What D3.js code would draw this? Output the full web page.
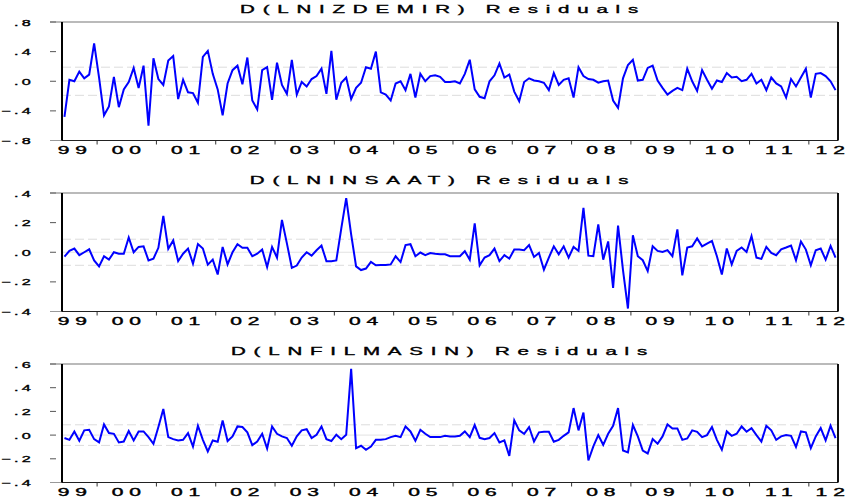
<!DOCTYPE html>
<html>
<head>
<meta charset="utf-8">
<script src="https://cdn.jsdelivr.net/npm/d3@7"></script>
<style>
  body { margin: 0; background: #fff; }
  text { font-family: "Liberation Sans", Arial, sans-serif; fill: #000; stroke: #000; stroke-width: 0.35px; }
</style>
</head>
<body>
<svg id="chart" width="850" height="500"></svg>
<script>
// monthly sample 1999M06 - 2012M06
var startYear = 1999, startMonth = 6;
var yearLabels = ["99", "00", "01", "02", "03", "04", "05", "06", "07", "08", "09", "10", "11", "12"];

var titles = ["D(LNIZDEMIR) Residuals", "D(LNINSAAT) Residuals", "D(LNFILMASIN) Residuals"];

var izdemir = [
  -0.48, 0.02, 0.00, 0.13, 0.04, 0.09, 0.51, 0.05, -0.46, -0.34, 0.06, -0.35,
  -0.11, -0.01, 0.18, -0.09, 0.21, -0.60, 0.31, 0.03, -0.05, 0.28, 0.34, -0.24,
  0.02, -0.15, -0.16, -0.29, 0.33, 0.41, 0.10, -0.11, -0.46, -0.03, 0.15, 0.21,
  -0.04, 0.32, -0.26, -0.38, 0.15, 0.19, -0.25, 0.25, -0.05, -0.17, 0.29, -0.18,
  -0.01, -0.07, 0.03, 0.07, 0.17, -0.17, 0.41, -0.25, -0.02, 0.05, -0.24, -0.09,
  -0.02, 0.19, 0.17, 0.40, -0.15, -0.18, -0.26, -0.03, 0.00, -0.12, 0.10, -0.22,
  0.10, 0.00, 0.07, 0.08, 0.06, -0.01, -0.01, 0.00, -0.03, 0.10, 0.29, -0.11,
  -0.21, -0.23, 0.00, 0.08, 0.24, 0.05, 0.09, -0.14, -0.27, -0.01, 0.04, 0.01,
  0.00, -0.02, -0.12, 0.11, -0.05, 0.02, 0.04, -0.22, 0.19, 0.07, 0.03, 0.02,
  -0.02, 0.00, 0.01, -0.26, -0.36, 0.04, 0.22, 0.29, 0.01, 0.02, 0.18, 0.21,
  0.01, -0.09, -0.18, -0.13, -0.09, -0.12, 0.17, 0.00, -0.13, 0.15, 0.02, -0.10,
  0.01, -0.01, 0.11, 0.05, 0.06, 0.00, 0.02, 0.10, -0.03, 0.02, -0.12, 0.05,
  -0.03, -0.07, -0.22, 0.03, -0.07, 0.05, 0.17, -0.22, 0.10, 0.11, 0.07, 0.00,
  -0.12
];

var insaat = [
  -0.03, 0.01, 0.025, -0.02, 0.0, 0.02, -0.055, -0.095, -0.027, -0.05, 0.0, -0.01,
  -0.01, 0.10, 0.0, 0.036, 0.04, -0.055, -0.043, 0.03, 0.245, 0.023, 0.08, -0.06,
  -0.01, 0.025, -0.077, 0.055, 0.025, -0.084, -0.05, -0.15, 0.036, -0.082, 0.0, 0.054,
  0.03, 0.03, -0.027, -0.01, 0.018, -0.10, 0.036, -0.036, 0.218, 0.06, -0.105, -0.09,
  -0.036, 0.0, -0.023, 0.013, 0.045, -0.06, -0.06, -0.055, 0.16, 0.365, 0.12, -0.095,
  -0.12, -0.11, -0.065, -0.088, -0.086, -0.086, -0.082, -0.027, -0.066, 0.048, 0.054, -0.027,
  -0.002, -0.02, -0.005, -0.01, -0.014, -0.014, -0.027, -0.027, -0.027, 0.007, -0.05, 0.195,
  -0.088, -0.036, -0.02, 0.025, -0.06, -0.02, -0.043, 0.018, 0.018, 0.014, 0.048, -0.032,
  -0.005, -0.118, -0.036, 0.04, -0.014, 0.04, -0.036, 0.036, 0.009, 0.30, -0.023, -0.027,
  0.188, -0.05, 0.073, -0.24, 0.18, -0.12, -0.38, 0.115, -0.027, -0.054, -0.127, 0.04,
  0.009, 0.002, 0.014, -0.027, 0.154, -0.156, 0.032, 0.04, 0.093, 0.04, 0.059, 0.077,
  -0.027, -0.15, 0.025, -0.082, 0.009, 0.032, 0.002, 0.109, -0.036, -0.045, 0.036, -0.005,
  -0.02, 0.02, 0.032, 0.045, -0.054, 0.073, 0.018, -0.088, 0.014, 0.025, -0.05, 0.043,
  -0.036
];

var filmasin = [
  -0.025, -0.04, 0.03, -0.048, 0.04, 0.045, -0.034, -0.062, 0.09, 0.017, 0.011, -0.062,
  -0.054, 0.034, -0.045, 0.031, 0.031, -0.017, -0.073, 0.068, 0.22, -0.017, -0.034, -0.045,
  -0.04, 0.017, -0.096, 0.079, -0.04, -0.138, -0.045, -0.056, 0.124, -0.05, -0.011, 0.073,
  0.068, 0.023, -0.085, -0.054, 0.011, -0.113, 0.073, 0.011, -0.011, -0.025, -0.09, -0.011,
  0.04, 0.05, -0.025, 0.003, 0.073, -0.034, -0.05, 0.003, -0.034, 0.003, 0.56, -0.11,
  -0.09, -0.124, -0.096, -0.04, -0.04, -0.034, -0.017, -0.006, -0.017, 0.073, 0.031, -0.048,
  0.045, 0.011, -0.017, -0.017, -0.017, -0.006, -0.011, -0.011, -0.006, 0.031, -0.017, 0.085,
  -0.023, -0.034, -0.025, 0.017, -0.062, -0.045, -0.175, 0.124, 0.04, 0.011, 0.068, -0.054,
  0.023, 0.028, 0.028, -0.056, -0.04, -0.006, 0.023, 0.228, 0.04, 0.19, -0.214, -0.096,
  0.0, -0.082, 0.011, 0.079, 0.228, -0.13, -0.146, 0.085, -0.011, -0.13, -0.155, -0.034,
  -0.073, -0.011, 0.09, 0.056, 0.056, -0.04, -0.028, 0.04, 0.028, -0.017, 0.0, 0.068,
  -0.04, -0.124, 0.031, -0.006, 0.011, 0.073, 0.028, 0.059, 0.0, -0.054, 0.079, 0.04,
  -0.04, -0.011, 0.0, -0.006, -0.1, 0.031, 0.023, -0.11, -0.011, 0.059, -0.045, 0.079,
  -0.025
];

// axis ranges, tick values and standard error bands of each panel
var yDomains = [[-0.8, 0.8], [-0.4, 0.4], [-0.4, 0.6]];
var yTicks = [[-0.8, -0.4, 0, 0.4, 0.8], [-0.4, -0.2, 0, 0.2, 0.4], [-0.4, -0.2, 0, 0.2, 0.4, 0.6]];
var seBands = [0.19, 0.088, 0.087];

var series = [izdemir, insaat, filmasin];

var svg = d3.select("#chart");
var left = 62, right = 838;
var panelTops = [22, 193, 364];
var panelH = 118.5;
var nObs = izdemir.length;

// x: one slot per month, points in the middle of the slot
var x = d3.scaleLinear().domain([0, nObs]).range([left, right]);
var firstJan = 12 - startMonth + 1;           // slot where 2000 starts
var yearStarts = d3.range(firstJan, nObs, 12);

function fmt(v) {
  return d3.format(".1f")(v).replace("0.", ".");
}

// horizontally stretched text, as in the original export
function stretched(g, px, py, str, sx, size, ls, anchor) {
  return g.append("text")
    .attr("transform", "translate(" + px + "," + py + ") scale(" + sx + ",1)")
    .attr("text-anchor", anchor)
    .style("font-size", size + "px")
    .style("letter-spacing", ls + "px")
    .text(str);
}

series.forEach(function(values, k) {
  var top = panelTops[k], bottom = top + panelH;
  var g = svg.append("g");

  var y = d3.scaleLinear().domain(yDomains[k]).range([bottom, top]);

  // title
  stretched(g, (left + right) / 2 - 7, top - 9.5, titles[k], 1.95, 10.5, 4.0, "middle");

  // zero line and +/- SE bands
  g.append("line")
    .attr("x1", left).attr("x2", right)
    .attr("y1", y(0)).attr("y2", y(0))
    .attr("stroke", "#e2e2e2").attr("stroke-width", 1);
  [-seBands[k], seBands[k]].forEach(function(b) {
    g.append("line")
      .attr("x1", left).attr("x2", right)
      .attr("y1", y(b)).attr("y2", y(b))
      .attr("stroke", "#dcdcdc").attr("stroke-width", 1)
      .attr("stroke-dasharray", "9,4");
  });

  // y ticks and labels
  yTicks[k].forEach(function(t) {
    g.append("line")
      .attr("x1", 50).attr("x2", 56)
      .attr("y1", y(t)).attr("y2", y(t))
      .attr("stroke", "#555").attr("stroke-width", 1);
    stretched(g, 34, y(t) + 3.5, fmt(t), 1.8, 9, 1.8, "end");
  });

  // x axis year ticks
  var xAxis = d3.axisBottom(x)
    .tickValues(yearStarts)
    .tickSize(4)
    .tickFormat("");
  g.append("g")
    .attr("transform", "translate(0," + bottom + ")")
    .call(xAxis)
    .call(function(a) { a.select(".domain").remove(); })
    .selectAll("line").attr("stroke", "#333");

  // year labels, centred in each year, pushed outward for the partial years
  var bounds = [0].concat(yearStarts).concat([nObs]);
  yearLabels.forEach(function(lab, j) {
    var c = (x(bounds[j]) + x(bounds[j + 1])) / 2 + 3;
    if (j === 0) c -= 7;
    if (j === yearLabels.length - 1) c += 7;
    stretched(g, c, bottom + 13.5, lab, 2.1, 10, 2.8, "middle");
  });

  // frame
  g.append("line").attr("x1", 50).attr("x2", right).attr("y1", top).attr("y2", top)
    .attr("stroke", "#777").attr("stroke-width", 1.2);
  g.append("line").attr("x1", 50).attr("x2", left).attr("y1", bottom).attr("y2", bottom)
    .attr("stroke", "#999").attr("stroke-width", 1);
  g.append("line").attr("x1", left).attr("x2", right).attr("y1", bottom).attr("y2", bottom)
    .attr("stroke", "#222").attr("stroke-width", 1.2);
  g.append("line").attr("x1", left).attr("x2", left).attr("y1", top).attr("y2", bottom)
    .attr("stroke", "#000").attr("stroke-width", 2);
  g.append("line").attr("x1", right).attr("x2", right).attr("y1", top).attr("y2", bottom)
    .attr("stroke", "#111").attr("stroke-width", 2);

  // residual line
  var line = d3.line()
    .x(function(d, i) { return x(i + 0.5); })
    .y(function(d) { return y(d); });

  g.append("path")
    .datum(values)
    .attr("fill", "none")
    .attr("stroke", "#0000ff")
    .attr("stroke-width", 2)
    .attr("stroke-linejoin", "miter")
    .attr("d", line);
});
</script>
</body>
</html>
